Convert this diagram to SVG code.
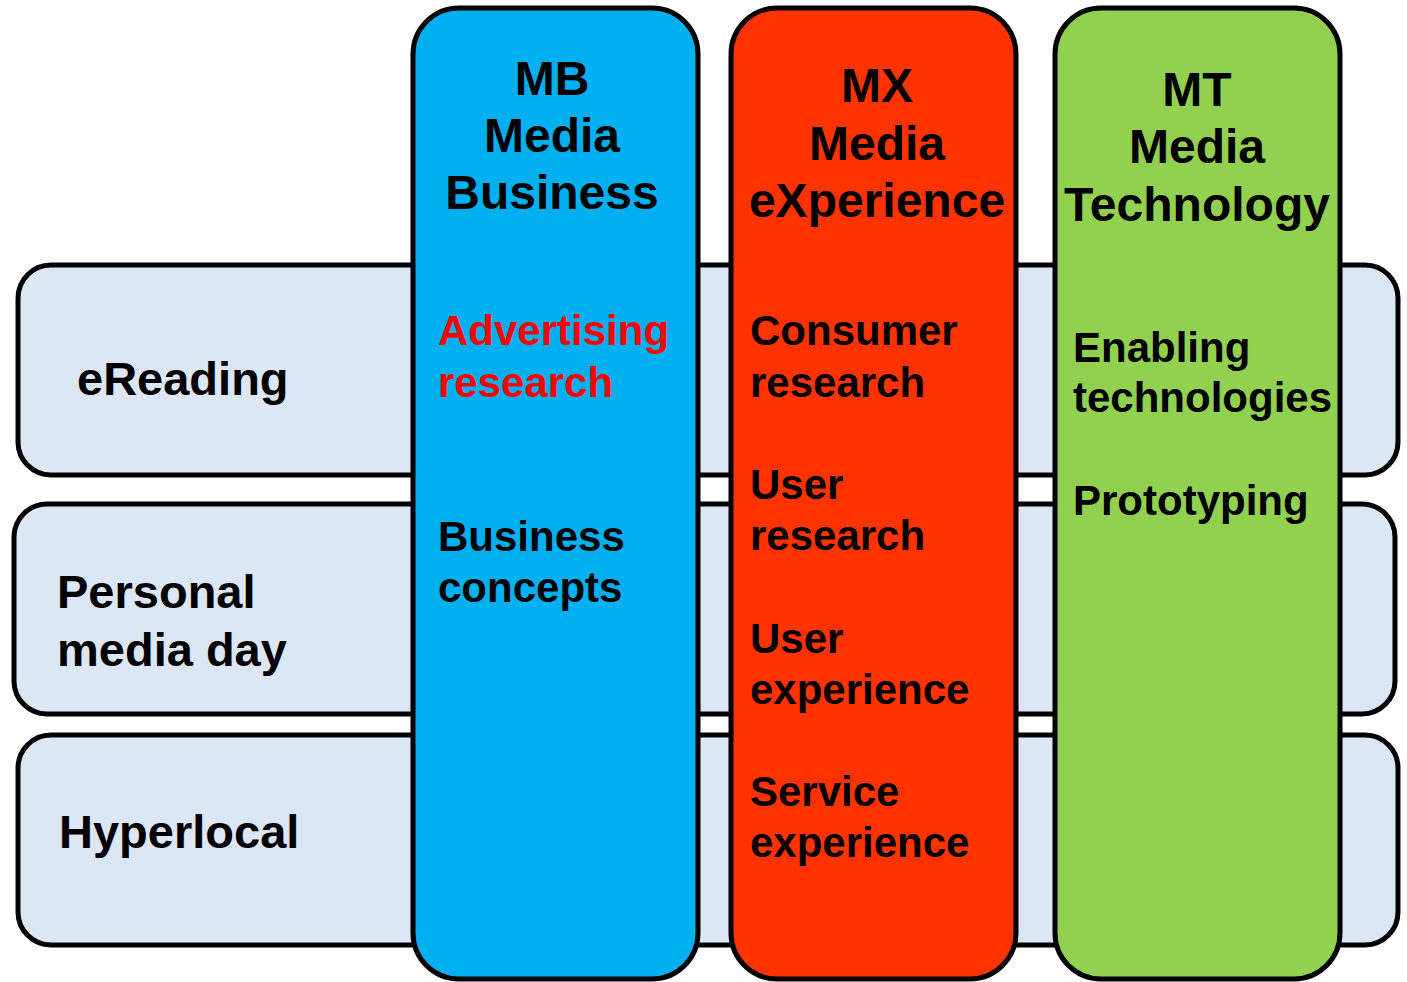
<svg xmlns="http://www.w3.org/2000/svg" width="1407" height="982" viewBox="0 0 1407 982">
<style>
.row{fill:#DBE7F4;stroke:#000;stroke-width:5}
.col{stroke:#000;stroke-width:5}
text{font-family:"Liberation Sans",Arial,sans-serif;font-weight:bold;fill:#000}
.h{font-size:48px;text-anchor:middle}
.r{font-size:47px}
.b{font-size:42px}
</style>
<rect width="1407" height="982" fill="#fff"/>
<g id="row-ereading">
<rect class="row" x="18" y="265" width="1380" height="210" rx="33"/>
<text class="r" x="77" y="395">eReading</text>
</g>
<g id="row-personal">
<rect class="row" x="14" y="504" width="1381" height="210" rx="33"/>
<text class="r" x="57" y="608">Personal</text>
<text class="r" x="57" y="666">media day</text>
</g>
<g id="row-hyperlocal">
<rect class="row" x="18" y="735" width="1380" height="210" rx="33"/>
<text class="r" x="59" y="848">Hyperlocal</text>
</g>
<g id="col-mb">
<rect class="col" fill="#00B0F0" x="413" y="8" width="285" height="971" rx="46"/>
<text class="h" x="552" y="95">MB</text>
<text class="h" x="552" y="152">Media</text>
<text class="h" x="552" y="209">Business</text>
<text class="b" x="438" y="345" fill="#FF0000" style="fill:#FF0000">Advertising</text>
<text class="b" x="438" y="397" style="fill:#FF0000">research</text>
<text class="b" x="438" y="551">Business</text>
<text class="b" x="438" y="602">concepts</text>
</g>
<g id="col-mx">
<rect class="col" fill="#FF3300" x="731" y="8" width="285" height="971" rx="46"/>
<text class="h" x="877" y="102">MX</text>
<text class="h" x="877" y="160">Media</text>
<text class="h" x="877" y="217">eXperience</text>
<text class="b" x="750" y="345">Consumer</text>
<text class="b" x="750" y="397">research</text>
<text class="b" x="750" y="499">User</text>
<text class="b" x="750" y="550">research</text>
<text class="b" x="750" y="653">User</text>
<text class="b" x="750" y="704">experience</text>
<text class="b" x="750" y="806">Service</text>
<text class="b" x="750" y="857">experience</text>
</g>
<g id="col-mt">
<rect class="col" fill="#92D050" x="1055" y="8" width="285" height="971" rx="46"/>
<text class="h" x="1197" y="106">MT</text>
<text class="h" x="1197" y="163">Media</text>
<text class="h" x="1197" y="221">Technology</text>
<text class="b" x="1073" y="362">Enabling</text>
<text class="b" x="1073" y="412">technologies</text>
<text class="b" x="1073" y="515">Prototyping</text>
</g>
<g id="connectors"></g>
</svg>
